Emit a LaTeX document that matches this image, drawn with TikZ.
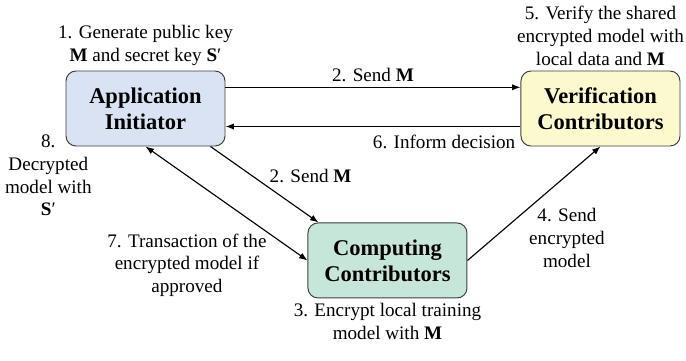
\documentclass[tikz,border=0pt]{standalone}
\usepackage{fontspec}
\setmainfont{Liberation Serif}
\usepackage{tikz}
\usetikzlibrary{arrows.meta, positioning}

\definecolor{appblue}{HTML}{DAE3F3}
\definecolor{verifyellow}{HTML}{FCFACD}
\definecolor{compgreen}{HTML}{C6E6D9}

\newcommand{\skey}{\textbf{S}′}

\begin{document}
\begin{tikzpicture}[>={Latex[length=6pt, width=4.5pt]},
    actor/.style={rectangle, draw=black!75, line width=0.7pt, rounded corners=0.25cm, text centered, align=center, minimum width=3.975cm, minimum height=1.875cm, font=\fontsize{16}{18.5}\selectfont\bfseries},
    note/.style={align=center, font=\fontsize{13.6}{16.3}\selectfont},
    link/.style={thick}]

    \useasboundingbox (-3.6375,-6.2875) rectangle (13.5125,2.7125);

    \node (app) [actor, fill=appblue] {Application\\Initiator};
    \node (verif) [actor, fill=verifyellow, right=7.375cm of app] {Verification\\Contributors};
    \node (comp) [actor, fill=compgreen, below right=1.9cm and 2.05cm of app] {Computing\\Contributors};

    \node (generate) [note, above=0cm of app] {1. Generate public key\\\textbf{M} and secret key \skey};
    \node (verify) [note, above=0cm of verif] {5. Verify the shared\\encrypted model with\\local data and \textbf{M}};
    \node (encrypt) [note, below=0cm of comp] {3. Encrypt local training\\model with \textbf{M}};
    \node (decrypt) [note] at ([shift={(-0.43cm,-0.72cm)}]app.south west) {8.\\Decrypted\\model with\\\skey};
    \node (transact) [note, left=0.9cm of comp, yshift=-0.12cm] {7. Transaction of the\\encrypted model if\\approved};

    \draw [link, ->] ([yshift=0.53cm]app.east) -- node [note, above] {2. Send \textbf{M}} ([yshift=0.53cm]verif.west);
    \draw [link, ->] ([yshift=-0.45cm]verif.west) -- node [note, pos=0, below left, yshift=-0.07cm] {6. Inform decision} ([yshift=-0.45cm]app.east);
    \draw [link, ->] ([xshift=-0.375cm]app.south east) -- node [note, above right, yshift=-0.1cm] {2. Send \textbf{M}} ([xshift=0.275cm]comp.north west);
    \draw [link, <->] (app.south) -- (comp.west);
    \draw [link, ->] (comp.east) -- node [note, below right, xshift=-0.25cm, yshift=0.02cm] {4. Send\\encrypted\\model} (verif.south);

\end{tikzpicture}
\end{document}
